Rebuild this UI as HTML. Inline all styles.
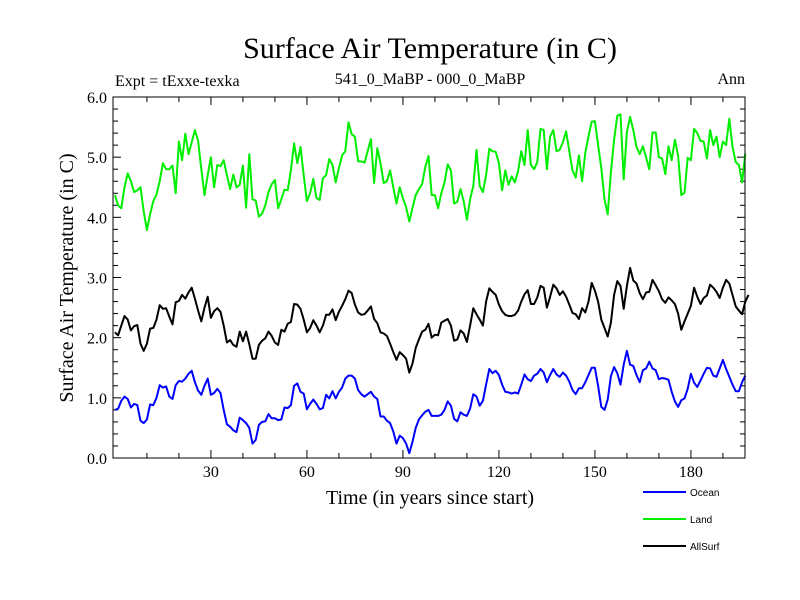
<!DOCTYPE html>
<html><head><meta charset="utf-8"><style>
body{margin:0;background:#fff;}
svg{display:block;}
text{font-family:"Liberation Serif",serif;}
</style></head><body>
<svg id="chart" width="800" height="600" xmlns="http://www.w3.org/2000/svg">
<text x="430" y="58" font-size="30" text-anchor="middle">Surface Air Temperature (in C)</text>
<text x="115" y="86" font-size="16">Expt = tExxe-texka</text>
<text x="430" y="84" font-size="16" text-anchor="middle">541_0_MaBP - 000_0_MaBP</text>
<text x="745" y="84" font-size="16" text-anchor="end">Ann</text>
<text transform="translate(73,278) rotate(-90)" font-size="20" text-anchor="middle">Surface Air Temperature (in C)</text>
<text x="430" y="504" font-size="20" text-anchor="middle">Time (in years since start)</text>
<g id="ticks"></g>
<g id="series"></g>
<rect x="113" y="97" width="632" height="361" fill="none" stroke="#000" stroke-width="1"/>
<g id="legend"></g>
</svg>
<script>
const yTicks=[0,1,2,3,4,5,6];
const yTickLabels=["0.0","1.0","2.0","3.0","4.0","5.0","6.0"];
const xTicks=[30,60,90,120,150,180];
const seriesNames=["Ocean","Land","AllSurf"];
const ocean=[0.8,0.82,0.95,1.02,0.98,0.84,0.9,0.88,0.62,0.58,0.64,0.89,0.88,1.0,1.21,1.17,1.19,1.02,0.98,1.21,1.28,1.27,1.32,1.4,1.45,1.26,1.12,1.05,1.2,1.32,1.05,1.08,1.15,1.08,0.8,0.56,0.52,0.46,0.43,0.67,0.63,0.58,0.5,0.24,0.3,0.55,0.6,0.61,0.73,0.66,0.66,0.63,
0.64,0.84,0.83,0.88,1.2,1.24,1.1,1.07,0.81,0.9,0.97,0.9,0.81,0.83,1.05,0.99,1.11,0.99,1.1,1.17,1.32,1.37,1.37,1.32,1.13,1.06,1.02,1.06,1.1,1.02,0.98,0.69,0.69,0.62,0.58,0.44,0.24,0.37,0.33,0.24,0.08,0.27,0.5,0.64,0.71,0.77,0.8,0.7,
0.7,0.7,0.72,0.8,0.94,0.87,0.65,0.61,0.76,0.72,0.7,0.82,1.06,1.02,0.87,0.95,1.22,1.48,1.41,1.45,1.38,1.22,1.1,1.09,1.07,1.09,1.07,1.22,1.39,1.31,1.28,1.37,1.4,1.48,1.42,1.26,1.38,1.48,1.39,1.35,1.42,1.37,1.27,1.13,1.06,1.16,1.16,1.26,1.38,1.5,
1.5,1.2,0.85,0.8,0.97,1.36,1.51,1.41,1.22,1.55,1.78,1.55,1.53,1.38,1.26,1.46,1.49,1.6,1.49,1.46,1.31,1.33,1.32,1.3,1.1,0.94,0.85,0.96,0.99,1.15,1.4,1.25,1.18,1.29,1.4,1.5,1.49,1.37,1.35,1.49,1.63,1.48,1.35,1.22,1.11,1.11,1.26,1.37];
const land=[4.37,4.2,4.15,4.5,4.73,4.6,4.42,4.45,4.5,4.1,3.79,4.05,4.27,4.38,4.6,4.9,4.8,4.8,4.86,4.4,5.26,4.95,5.39,5.05,5.25,5.45,5.27,4.8,4.37,4.7,5.0,4.5,4.87,4.85,4.95,4.7,4.47,4.71,4.5,4.54,4.86,4.16,5.05,4.3,4.28,4.01,4.06,4.2,4.42,4.55,4.62,4.15,
4.3,4.46,4.45,4.78,5.23,4.9,5.17,4.7,4.27,4.4,4.64,4.32,4.29,4.65,4.7,4.97,4.87,4.58,4.82,5.03,5.1,5.58,5.38,5.34,4.93,4.93,4.91,5.1,5.3,4.57,5.15,4.9,4.57,4.6,4.78,4.5,4.23,4.5,4.32,4.17,3.93,4.16,4.37,4.47,4.55,4.84,5.02,4.37,
4.37,4.15,4.4,4.58,4.88,4.78,4.23,4.26,4.47,4.27,3.96,4.3,4.52,5.12,4.52,4.42,4.7,5.14,5.1,5.09,4.9,4.45,4.78,4.54,4.68,4.58,4.77,5.1,4.87,5.45,4.87,4.8,4.92,5.47,5.45,4.8,5.34,5.45,5.1,5.12,5.25,5.43,5.1,4.78,4.66,5.03,4.6,5.07,5.35,5.59,
5.6,5.2,4.82,4.3,4.05,4.75,5.29,5.69,5.71,4.63,5.42,5.67,5.45,5.17,5.05,5.18,5.0,4.8,5.41,5.41,5.0,4.98,4.72,5.18,4.95,5.29,5.03,4.37,4.41,4.99,4.95,5.47,5.4,5.27,5.26,4.98,5.45,5.2,5.34,5.0,5.26,5.2,5.64,5.17,4.92,4.87,4.58,5.06];
const allsurf=[2.09,2.04,2.2,2.36,2.3,2.12,2.19,2.21,1.9,1.78,1.9,2.15,2.16,2.3,2.54,2.48,2.49,2.35,2.22,2.59,2.61,2.71,2.65,2.75,2.83,2.65,2.45,2.27,2.5,2.68,2.33,2.44,2.49,2.43,2.2,1.92,1.96,1.88,1.85,2.1,1.94,2.1,1.89,1.65,1.65,1.88,1.95,1.99,2.1,2.03,1.92,1.88,
2.13,2.1,2.23,2.26,2.56,2.55,2.48,2.3,2.09,2.16,2.29,2.2,2.09,2.2,2.38,2.38,2.47,2.29,2.43,2.53,2.64,2.78,2.74,2.55,2.42,2.38,2.39,2.45,2.52,2.31,2.24,2.09,2.07,2.03,1.9,1.76,1.63,1.76,1.71,1.65,1.42,1.57,1.83,1.97,2.1,2.13,2.23,2.0,
2.05,2.04,2.25,2.28,2.31,2.2,1.95,1.97,2.12,2.07,1.93,2.2,2.49,2.39,2.3,2.2,2.6,2.82,2.76,2.71,2.55,2.44,2.38,2.36,2.36,2.38,2.45,2.6,2.72,2.79,2.56,2.56,2.67,2.86,2.83,2.5,2.68,2.88,2.82,2.71,2.77,2.68,2.55,2.41,2.39,2.31,2.49,2.42,2.6,2.91,
2.78,2.6,2.3,2.16,2.02,2.25,2.71,2.94,2.86,2.48,2.86,3.16,2.95,2.9,2.74,2.64,2.75,2.76,2.96,2.87,2.77,2.64,2.58,2.67,2.62,2.56,2.4,2.13,2.27,2.4,2.53,2.83,2.68,2.56,2.66,2.7,2.88,2.83,2.76,2.66,2.83,2.96,2.9,2.71,2.52,2.45,2.39,2.6,2.71];

const NS="http://www.w3.org/2000/svg";
const X0=113,X1=745,Y0=458,Y1=97;
const xMin=-0.6,xMax=196.9,yMin=0,yMax=6;
function xs(v){return X0+(v-xMin)/(xMax-xMin)*(X1-X0);}
function ys(v){return Y0-(v-yMin)/(yMax-yMin)*(Y0-Y1);}
function mk(tag,attrs,parent){const e=document.createElementNS(NS,tag);for(const k in attrs)e.setAttribute(k,attrs[k]);parent.appendChild(e);return e;}

const tg=document.getElementById('ticks');
for(let v=0;v<=6.0001;v+=0.2){
  const y=ys(v);const major=Math.abs(v-Math.round(v))<1e-6;const L=major?8:5;
  const t1=mk('line',{x1:X0,x2:X0+L,y1:y,y2:y,stroke:'#000'},tg);
  
  
  const t2=mk('line',{x1:X1,x2:X1-L,y1:y,y2:y,stroke:'#000'},tg);
  
  
}
yTicks.forEach((v,i)=>{
  const t=mk('text',{x:107,y:ys(v)+6,'font-size':16,'text-anchor':'end'},tg);
  t.textContent=yTickLabels[i];
  
  
});
for(let v=10;v<=190;v+=10){
  const x=xs(v);const major=v%30===0;const L=major?8:5;
  const t1=mk('line',{x1:x,x2:x,y1:Y0,y2:Y0-L,stroke:'#000'},tg);
  
  
  const t2=mk('line',{x1:x,x2:x,y1:Y1,y2:Y1+L,stroke:'#000'},tg);
  
  
}
xTicks.forEach(v=>{
  const t=mk('text',{x:xs(v),y:477,'font-size':16,'text-anchor':'middle'},tg);
  t.textContent=String(v);
  
  
});

const sg=document.getElementById('series');
const allData=[ocean,land,allsurf];
const colors=['#0000ff','#00ee00','#000000'];
const names=['ocean-line','land-line','allsurf-line'];
allData.forEach((arr,si)=>{
  const pts=arr.map((v,i)=>xs(i).toFixed(1)+','+ys(v).toFixed(1)).join(' ');
  const p=mk('polyline',{points:pts,fill:'none',stroke:colors[si],'stroke-width':2,'stroke-linejoin':'round'},sg);
  
  
});

const lg=document.getElementById('legend');
const ly=[492,519,546];
seriesNames.forEach((n,i)=>{
  const g=mk('g',{},lg);
  
  
  mk('line',{x1:643,x2:686,y1:ly[i],y2:ly[i],stroke:colors[i],'stroke-width':2},g);
  const t=mk('text',{x:690,y:ly[i]+4,'font-size':10,style:'font-family:"Liberation Sans",sans-serif'},g);
  t.textContent=n;
});
</script>
</body></html>
